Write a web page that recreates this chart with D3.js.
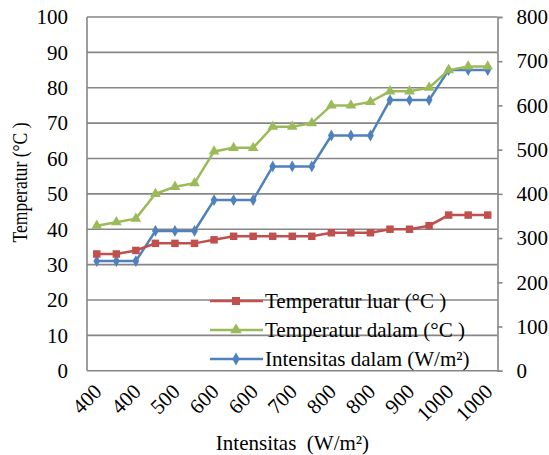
<!DOCTYPE html>
<html>
<head>
<meta charset="utf-8">
<script src="https://cdn.jsdelivr.net/npm/d3@7"></script>
<style>
  body { margin: 0; background: #fff; }
</style>
</head>
<body>
<svg width="549" height="455"></svg>
<script>
// Data
const xLabels = ["400", "", "400", "", "500", "", "600", "", "600", "", "700", "", "800", "", "800", "", "900", "", "1000", "", "1000"];
const tempLuar = [33, 33, 34, 36, 36, 36, 37, 38, 38, 38, 38, 38, 39, 39, 39, 40, 40, 41, 44, 44, 44];
const tempDalam = [41, 42, 43, 50, 52, 53, 62, 63, 63, 69, 69, 70, 75, 75, 76, 79, 79, 80, 85, 86, 86];
const intensitasDalam = [248, 248, 248, 316, 316, 316, 386, 386, 386, 462, 462, 462, 532, 532, 532, 612, 612, 612, 680, 680, 680];
const leftTicks = [0, 10, 20, 30, 40, 50, 60, 70, 80, 90, 100];
const rightTicks = [0, 100, 200, 300, 400, 500, 600, 700, 800];

const serif = '"Liberation Serif", "Times New Roman", Times, "DejaVu Serif", serif';
const svg = d3.select("svg");
const plotLeft = 87, plotRight = 497.5, plotTop = 17, plotBottom = 370.7;
const gridColor = "#868686";

const x = d3.scalePoint()
    .domain(d3.range(xLabels.length))
    .range([plotLeft, plotRight])
    .padding(0.5);
const yL = d3.scaleLinear().domain([0, 100]).range([plotBottom, plotTop]);
const yR = d3.scaleLinear().domain([0, 800]).range([plotBottom, plotTop]);

// gridlines
svg.append("g")
    .selectAll("line")
    .data(leftTicks.slice(1))
    .join("line")
    .attr("x1", plotLeft).attr("x2", plotRight)
    .attr("y1", d => yL(d)).attr("y2", d => yL(d))
    .attr("stroke", gridColor).attr("stroke-width", 1.6);

// left axis labels
svg.append("g")
    .selectAll("text")
    .data(leftTicks)
    .join("text")
    .attr("x", plotLeft - 19)
    .attr("y", d => yL(d))
    .attr("dy", "0.35em")
    .attr("text-anchor", "end")
    .attr("font-family", serif)
    .attr("font-size", 21)
    .text(d => d);

// right axis with outward ticks
const rAxis = svg.append("g")
    .attr("transform", `translate(${plotRight},0)`)
    .call(d3.axisRight(yR).tickValues(rightTicks).tickSize(5).tickPadding(14));
rAxis.attr("font-family", serif).attr("font-size", 21);
rAxis.select(".domain").attr("stroke", gridColor).attr("stroke-width", 1.6);
rAxis.selectAll(".tick line").attr("stroke", gridColor).attr("stroke-width", 1.6);
rAxis.selectAll(".tick text").attr("fill", "#000");

// left and bottom axis lines
svg.append("line").attr("x1", plotLeft).attr("x2", plotLeft).attr("y1", plotTop).attr("y2", plotBottom)
    .attr("stroke", gridColor).attr("stroke-width", 1.6);
svg.append("line").attr("x1", plotLeft).attr("x2", plotRight).attr("y1", plotBottom).attr("y2", plotBottom)
    .attr("stroke", gridColor).attr("stroke-width", 1.6);

// x labels (rotated)
svg.append("g")
    .selectAll("text")
    .data(xLabels.map((l, i) => ({ l, i })).filter(d => d.l !== ""))
    .join("text")
    .attr("transform", d => `translate(${x(d.i) + 1},${plotBottom + 17}) rotate(-45)`)
    .attr("text-anchor", "end")
    .attr("dy", "0.35em")
    .attr("font-family", serif)
    .attr("font-size", 21)
    .text(d => d.l);

// series
const series = [
    { name: "Temperatur luar (°C )", values: tempLuar, scale: yL, color: "#C0504D", symbol: d3.symbolSquare, size: 56 },
    { name: "Temperatur dalam (°C )", values: tempDalam, scale: yL, color: "#9BBB59", symbol: d3.symbolTriangle, size: 50 },
    { name: "Intensitas dalam (W/m²)", values: intensitasDalam, scale: yR, color: "#4F81BD", symbol: d3.symbolDiamond, size: 40 }
];

series.slice().reverse().forEach(s => {
    const line = d3.line()
        .x((d, i) => x(i))
        .y(d => s.scale(d));
    svg.append("path")
        .datum(s.values)
        .attr("d", line)
        .attr("fill", "none")
        .attr("stroke", s.color)
        .attr("stroke-width", 2.5);
    svg.append("g")
        .selectAll("path")
        .data(s.values)
        .join("path")
        .attr("transform", (d, i) => `translate(${x(i)},${s.scale(d)})`)
        .attr("d", d3.symbol().type(s.symbol).size(s.size))
        .attr("fill", s.color);
});

// legend
const legend = svg.append("g");
series.forEach((s, i) => {
    const ly = 301 + i * 29;
    legend.append("line")
        .attr("x1", 210).attr("x2", 263).attr("y1", ly).attr("y2", ly)
        .attr("stroke", s.color).attr("stroke-width", 2.5);
    legend.append("path")
        .attr("transform", `translate(236,${ly})`)
        .attr("d", d3.symbol().type(s.symbol).size(s.size + 8))
        .attr("fill", s.color);
    legend.append("text")
        .attr("x", 265).attr("y", ly)
        .attr("dy", "0.35em")
        .attr("font-family", serif)
        .attr("font-size", 21)
        .text(s.name);
});

// axis titles
svg.append("text")
    .attr("x", 292.5).attr("y", 450)
    .attr("text-anchor", "middle")
    .attr("font-family", serif)
    .attr("font-size", 21)
    .style("white-space", "pre")
    .text("Intensitas  (W/m²)");

svg.append("text")
    .attr("transform", "translate(27,182.5) rotate(-90)")
    .attr("text-anchor", "middle")
    .attr("font-family", serif)
    .attr("font-size", 20)
    .attr("textLength", 120)
    .attr("lengthAdjust", "spacingAndGlyphs")
    .text("Temperatur (°C )");
</script>
</body>
</html>
